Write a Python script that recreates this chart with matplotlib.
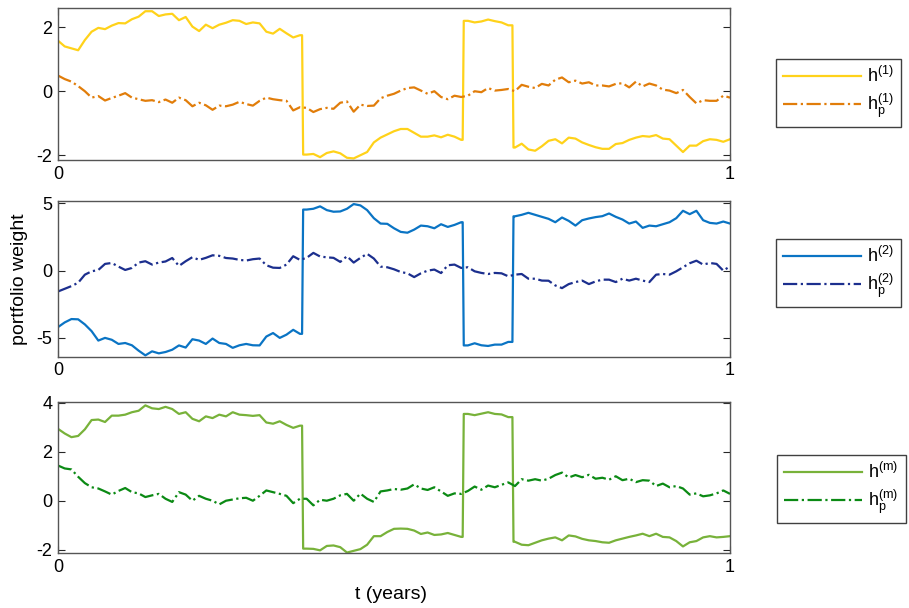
import numpy as np
import matplotlib
matplotlib.use('Agg')
import matplotlib.pyplot as plt

plt.rcParams['font.family'] = ['Liberation Sans', 'DejaVu Sans']
plt.rcParams['mathtext.fontset'] = 'custom'
plt.rcParams['mathtext.rm'] = 'Liberation Sans'
plt.rcParams['mathtext.it'] = 'Liberation Sans'
plt.rcParams['axes.unicode_minus'] = False

# time grid (years) and switching times of the regime
t = np.linspace(0, 1, 101)
jumps = [0.364, 0.603, 0.677]

h1 = [1.58, 1.4, 1.34, 1.28, 1.6, 1.86, 1.98, 1.94, 2.05, 2.13,
      2.12, 2.25, 2.33, 2.5, 2.5, 2.35, 2.4, 2.42, 2.22, 2.32,
      2.02, 1.88, 2.08, 1.97, 2.08, 2.14, 2.22, 2.2, 2.1, 2.15,
      2.12, 1.86, 1.8, 1.95, 1.81, 1.68, 1.75, -1.98, -1.96, -2.06,
      -1.93, -1.88, -1.94, -2.08, -2.1, -2.0, -1.9, -1.6, -1.45, -1.35,
      -1.25, -1.18, -1.18, -1.3, -1.42, -1.42, -1.38, -1.44, -1.36, -1.42,
      -1.52, 2.2, 2.15, 2.18, 2.24, 2.19, 2.15, 2.06, -1.76, -1.64,
      -1.82, -1.86, -1.72, -1.55, -1.5, -1.63, -1.45, -1.48, -1.6, -1.68,
      -1.75, -1.8, -1.8, -1.65, -1.62, -1.52, -1.45, -1.4, -1.42, -1.37,
      -1.48, -1.5, -1.7, -1.9, -1.7, -1.7, -1.56, -1.5, -1.52, -1.58,
      -1.5]
hp1 = [0.49, 0.38, 0.3, 0.16, 0.0, -0.2, -0.15, -0.29, -0.21, -0.14,
       -0.06, -0.2, -0.25, -0.3, -0.28, -0.34, -0.26, -0.36, -0.2, -0.28,
       -0.47, -0.36, -0.44, -0.58, -0.45, -0.47, -0.42, -0.33, -0.4, -0.45,
       -0.3, -0.2, -0.25, -0.28, -0.3, -0.6, -0.5, -0.52, -0.65, -0.56,
       -0.52, -0.55, -0.36, -0.32, -0.64, -0.42, -0.46, -0.45, -0.22, -0.14,
       -0.08, 0.02, 0.1, 0.12, 0.02, -0.08, 0.0, -0.18, -0.25, -0.14,
       -0.18, -0.14, 0.0, -0.03, 0.1, 0.02, 0.04, 0.07, 0.0, 0.2,
       0.14, 0.1, 0.23, 0.18, 0.36, 0.43, 0.28, 0.33, 0.24, 0.28,
       0.18, 0.18, 0.15, 0.23, 0.25, 0.12, 0.3, 0.15, 0.24, 0.18,
       0.05, 0.02, -0.06, 0.04, -0.18, -0.38, -0.28, -0.3, -0.3, -0.14,
       -0.2]

h2 = [-4.2, -3.85, -3.6, -3.62, -4.0, -4.5, -5.2, -5.0, -5.14, -5.45,
      -5.38, -5.55, -5.95, -6.3, -6.0, -6.15, -6.05, -5.88, -5.56, -5.72,
      -5.1, -5.2, -5.45, -5.05, -5.38, -5.45, -5.74, -5.55, -5.45, -5.55,
      -5.56, -4.9, -4.64, -5.0, -4.76, -4.4, -4.7, 4.54, 4.6, 4.78,
      4.5, 4.38, 4.4, 4.6, 4.95, 4.85, 4.5, 3.9, 3.5, 3.48,
      3.15, 2.88, 2.82, 3.05, 3.35, 3.3, 3.15, 3.45, 3.25, 3.4,
      3.6, -5.56, -5.4, -5.55, -5.6, -5.5, -5.5, -5.3, 4.04, 4.15,
      4.3, 4.15, 4.0, 3.85, 3.6, 3.95, 3.7, 3.35, 3.75, 3.88,
      3.98, 4.05, 4.25, 4.0, 3.8, 3.5, 3.65, 3.18, 3.35, 3.3,
      3.45, 3.6, 3.9, 4.45, 4.2, 4.45, 3.75, 3.55, 3.5, 3.65,
      3.5]
hp2 = [-1.55, -1.35, -1.15, -0.9, -0.3, -0.05, 0.05, 0.5, 0.57, 0.3,
       0.05, 0.2, 0.6, 0.7, 0.45, 0.6, 0.68, 0.94, 0.35, 0.7,
       1.0, 0.8, 0.95, 1.14, 1.1, 0.94, 0.9, 0.8, 0.75, 0.85,
       0.9, 0.4, 0.22, 0.2, 0.45, 1.07, 0.8, 0.95, 1.32, 1.05,
       0.99, 0.95, 0.65, 1.07, 0.6, 0.95, 1.25, 0.9, 0.3, 0.25,
       0.1, -0.1, -0.2, -0.48, -0.2, 0.0, 0.08, -0.18, 0.4, 0.45,
       0.2, 0.25, -0.05, -0.17, -0.25, -0.17, -0.2, -0.42, -0.3, -0.25,
       -0.6, -0.6, -0.74, -0.75, -1.1, -1.3, -1.0, -0.85, -0.74, -1.0,
       -0.8, -0.67, -0.67, -0.85, -0.6, -0.74, -0.6, -0.74, -0.85, -0.3,
       -0.25, -0.3, -0.05, 0.25, 0.55, 0.74, 0.45, 0.57, 0.5, 0.0,
       0.32]

hm = [2.94, 2.75, 2.6, 2.65, 2.92, 3.3, 3.32, 3.22, 3.48, 3.48,
      3.52, 3.62, 3.68, 3.9, 3.78, 3.75, 3.84, 3.75, 3.55, 3.62,
      3.35, 3.25, 3.45, 3.38, 3.52, 3.45, 3.62, 3.52, 3.5, 3.47,
      3.5, 3.2, 3.15, 3.25, 3.1, 2.98, 3.07, -1.96, -1.97, -2.03,
      -1.85, -1.83, -1.9, -2.12, -2.05, -1.98, -1.8, -1.45, -1.45, -1.28,
      -1.15, -1.14, -1.15, -1.22, -1.36, -1.3, -1.4, -1.38, -1.32, -1.4,
      -1.48, 3.55, 3.5, 3.56, 3.62, 3.55, 3.53, 3.42, -1.68, -1.8,
      -1.82, -1.72, -1.62, -1.55, -1.5, -1.62, -1.42, -1.46, -1.56, -1.62,
      -1.65, -1.7, -1.72, -1.62, -1.55, -1.48, -1.42, -1.35, -1.45, -1.35,
      -1.48, -1.5, -1.65, -1.87, -1.7, -1.65, -1.5, -1.45, -1.5, -1.48,
      -1.45]
hpm = [1.44, 1.32, 1.28, 0.98, 0.72, 0.55, 0.5, 0.38, 0.25, 0.4,
       0.52, 0.35, 0.3, 0.15, 0.22, 0.28, 0.08, -0.05, 0.35, 0.25,
       0.0, 0.2, 0.08, 0.0, -0.15, 0.0, 0.05, 0.1, 0.12, 0.0,
       0.2, 0.42, 0.35, 0.28, 0.2, -0.1, 0.08, 0.08, -0.19, 0.04,
       0.0, 0.08, 0.22, 0.28, 0.0, 0.29, 0.08, -0.05, 0.38, 0.42,
       0.48, 0.45, 0.5, 0.67, 0.5, 0.44, 0.55, 0.38, 0.2, 0.3,
       0.28, 0.4, 0.58, 0.45, 0.62, 0.55, 0.65, 0.75, 0.6, 0.88,
       0.82, 0.88, 0.82, 0.9, 1.05, 1.15, 0.95, 1.05, 0.96, 1.06,
       0.9, 0.94, 0.86, 1.0, 0.84, 0.9, 0.76, 0.84, 0.82, 0.6,
       0.7, 0.55, 0.6, 0.5, 0.25, 0.3, 0.18, 0.22, 0.3, 0.42,
       0.28]


def with_jumps(tt, vals, jt):
    # make regime switches (near) vertical
    tt = list(tt)
    vals = list(vals)
    for tj in sorted(jt, reverse=True):
        i = np.searchsorted(tt, tj) - 1
        tt[i + 1:i + 1] = [tj - 0.0008, tj + 0.0008]
        vals[i + 1:i + 1] = [vals[i], vals[i + 1]]
    return np.array(tt), np.array(vals)


panels = [
    (h1, hp1, '#FFD21A', '#E17D0A', '1', (-2.15, 2.6), [-2, 0, 2]),
    (h2, hp2, '#0A74C4', '#1C2F8E', '2', (-6.4, 5.2), [-5, 0, 5]),
    (hm, hpm, '#78B23A', '#0B8A14', 'm', (-2.15, 4.05), [-2, 0, 2, 4]),
]
# axes boxes [left, bottom, width, height] in figure fractions
boxes = [[0.0638, 0.7368, 0.7393, 0.25],
         [0.0638, 0.4133, 0.7393, 0.2566],
         [0.0638, 0.0900, 0.7393, 0.2493]]
leg_pos = [(0.8537, 0.903), (0.8537, 0.607), (0.855, 0.2516)]

fig = plt.figure(figsize=(9.09, 6.08), dpi=100)
axes = []
for k, (hs, hp, c1, c2, lab, yl, yt) in enumerate(panels):
    ax = fig.add_axes(boxes[k])
    ts, hv = with_jumps(t, hs, jumps)
    ax.plot(ts, hv, '-', color=c1, lw=1.6, label=r'h$^{(%s)}$' % lab)
    ax.plot(t, hp, '-.', color=c2, lw=1.6, label=r'h$_{\rm p}^{(%s)}$' % lab)
    ax.set_xlim(0, 1)
    ax.set_ylim(*yl)
    ax.set_xticks([0, 1])
    ax.set_xticklabels(['0', '1'])
    ax.set_yticks(yt)
    ax.tick_params(direction='in', right=True, top=True, length=5,
                   labelsize=13, colors='#262626', labelcolor='black', pad=4)
    for s in ax.spines.values():
        s.set_color('#555555')
        s.set_linewidth(1.0)
    leg = ax.legend(loc='upper left', bbox_to_anchor=leg_pos[k],
                    bbox_transform=fig.transFigure, borderaxespad=0,
                    fontsize=13, handlelength=4.3, fancybox=False,
                    edgecolor='#404040', framealpha=1, labelspacing=0.3,
                    borderpad=0.4, handletextpad=0.35)
    leg.get_frame().set_linewidth(1.0)
    axes.append(ax)

fig.text(0.022, 0.54, 'portfolio weight', rotation=90, fontsize=14,
         ha='center', va='center')
fig.text(0.43, 0.022, 't (years)', fontsize=14, ha='center', va='center')

fig.savefig('out.png', dpi=100)
